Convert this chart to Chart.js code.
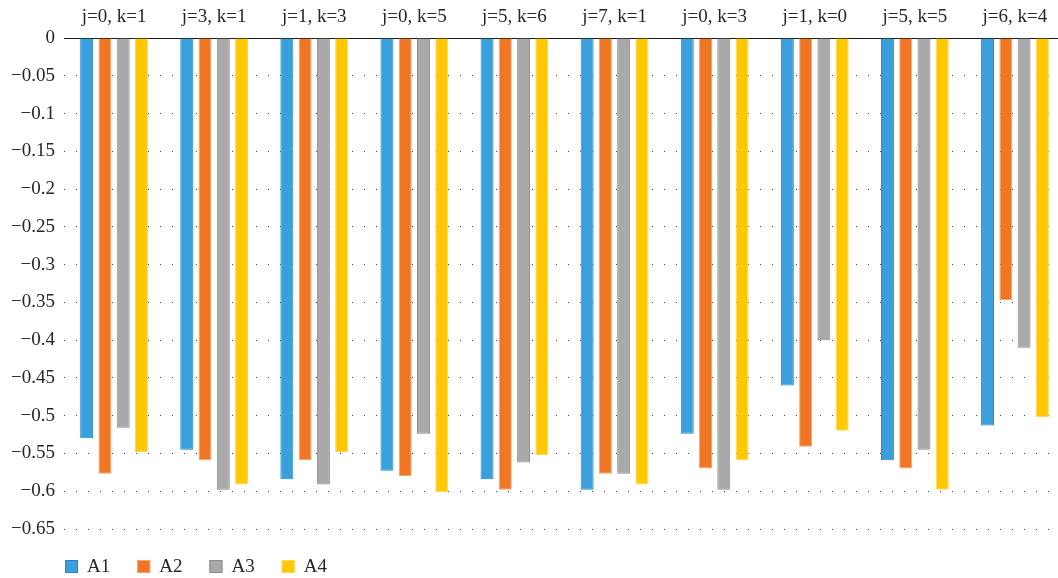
<!DOCTYPE html>
<html>
<head>
<meta charset="utf-8">
<script src="https://cdn.jsdelivr.net/npm/chart.js@4/dist/chart.umd.min.js"></script>
<style>
  html, body { margin: 0; padding: 0; background: #fff; overflow: hidden; }
  #caixa { width: 1066px; height: 578px; }
</style>
</head>
<body>
<div id="caixa"><canvas id="grafico"></canvas></div>
<script>
// dados
var categorias = ['j=0, k=1', 'j=3, k=1', 'j=1, k=3', 'j=0, k=5', 'j=5, k=6', 'j=7, k=1', 'j=0, k=3', 'j=1, k=0', 'j=5, k=5', 'j=6, k=4']
var serieA1 = [-0.530, -0.545, -0.584, -0.573, -0.584, -0.598, -0.524, -0.460, -0.559, -0.513]
var serieA2 = [-0.577, -0.559, -0.559, -0.580, -0.598, -0.577, -0.570, -0.541, -0.570, -0.347]
var serieA3 = [-0.516, -0.598, -0.591, -0.524, -0.562, -0.577, -0.598, -0.400, -0.545, -0.410]
var serieA4 = [-0.548, -0.591, -0.548, -0.601, -0.552, -0.591, -0.559, -0.520, -0.598, -0.502]
var nomesSeries = ['A1', 'A2', 'A3', 'A4']

var coresFundo = ['#3a9fdb', '#ee7624', '#a9a9a9', '#ffc800']
var coresBorda = ['#1d88c9', '#f5a36c', '#8a8a8a', '#ffd659']
var fonte = '"Liberation Serif", "DejaVu Serif", serif'
var corTexto = '#262626'

function montarDataset(i, valores) {
    return {
        label: nomesSeries[i],
        data: valores,
        backgroundColor: coresFundo[i],
        borderColor: coresBorda[i],
        borderWidth: 1,
        barPercentage: 0.71,
        categoryPercentage: 0.73
    }
}

// legenda desenhada a mao pra ficar igual a original
var legendaManual = {
    id: 'legendaManual',
    afterDraw: function (chart) {
        var ctx = chart.ctx
        var x = chart.chartArea.left + 1
        var y = 566
        ctx.save()
        ctx.font = '19px ' + fonte
        ctx.textBaseline = 'middle'
        chart.data.datasets.forEach(function (ds) {
            ctx.fillStyle = ds.backgroundColor
            ctx.fillRect(x, y - 6, 13, 13)
            ctx.strokeStyle = ds.borderColor
            ctx.lineWidth = 1
            ctx.strokeRect(x + 0.5, y - 5.5, 12, 12)
            ctx.fillStyle = corTexto
            ctx.fillText(ds.label, x + 22, y + 1)
            x += 22 + ctx.measureText(ds.label).width + 27
        })
        ctx.restore()
    }
}

var config = {
    type: 'bar',
    data: {
        labels: categorias,
        datasets: [
            montarDataset(0, serieA1),
            montarDataset(1, serieA2),
            montarDataset(2, serieA3),
            montarDataset(3, serieA4)
        ]
    },
    options: {
        responsive: true,
        maintainAspectRatio: false,
        animation: false,
        layout: {
            padding: { top: 0, right: 1, bottom: 49, left: 0 }
        },
        plugins: {
            legend: { display: false },
            tooltip: { enabled: false }
        },
        scales: {
            x: {
                position: 'top',
                grid: { display: false, drawTicks: false },
                border: { display: true, color: '#1a1a1a', width: 1 },
                ticks: {
                    color: corTexto,
                    font: { family: fonte, size: 19 },
                    padding: 10,
                    maxRotation: 0,
                    autoSkip: false
                },
                afterFit: function (escala) { escala.height = 38 }
            },
            y: {
                min: -0.65,
                max: 0,
                grid: {
                    drawTicks: false,
                    color: function (c) { return c.tick.value === 0 ? 'rgba(0,0,0,0)' : '#444' },
                    lineWidth: 1
                },
                border: { display: false, dash: [1, 11] },
                ticks: {
                    stepSize: 0.05,
                    color: corTexto,
                    font: { family: fonte, size: 19 },
                    padding: 9,
                    callback: function (v) {
                        var t = String(Math.round(v * 100) / 100)
                        return t.replace('-', '\u2212')
                    }
                },
                afterFit: function (escala) { escala.width = 64 }
            }
        }
    },
    plugins: [legendaManual]
}

var meuGrafico = new Chart(document.getElementById('grafico'), config)
</script>
</body>
</html>
